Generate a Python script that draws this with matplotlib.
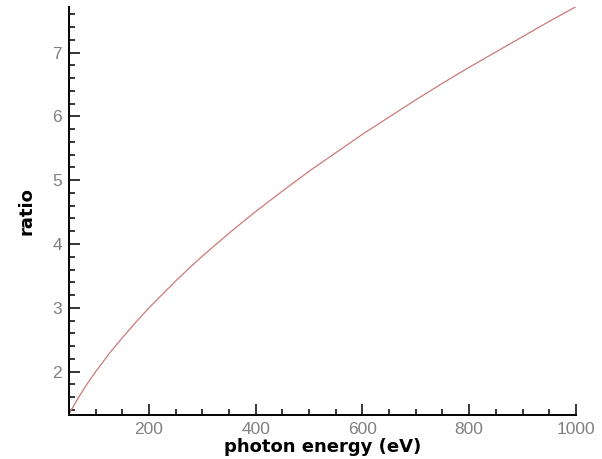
import matplotlib
matplotlib.use("Agg")
import matplotlib.pyplot as plt
from matplotlib.ticker import MultipleLocator

# values
energy = [50, 55, 60, 67, 75, 85, 100, 112, 125, 137, 150, 175, 200, 225,
          250, 275, 300, 350, 400, 450, 500, 550, 600, 650, 700, 750, 800,
          850, 900, 950, 1000]
ratio = [1.33, 1.41, 1.48, 1.58, 1.69, 1.82, 2.00, 2.13, 2.28, 2.40, 2.53,
         2.77, 3.00, 3.21, 3.42, 3.62, 3.81, 4.17, 4.51, 4.83, 5.14, 5.43,
         5.72, 5.99, 6.26, 6.52, 6.77, 7.01, 7.25, 7.49, 7.72]

fig = plt.figure(figsize=(6.02, 4.59), dpi=100)
ax = fig.add_axes([0.1146, 0.096, 0.842, 0.8894])

ax.plot(energy, ratio, color="#cc7a7a", lw=0.9)

ax.set_xlim(50, 1000)
ax.set_ylim(1.32, 7.72)
ax.xaxis.set_major_locator(MultipleLocator(200))
ax.xaxis.set_minor_locator(MultipleLocator(50))
ax.yaxis.set_major_locator(MultipleLocator(1))
ax.yaxis.set_minor_locator(MultipleLocator(0.2))

for s in ("top", "right"):
    ax.spines[s].set_visible(False)
for s in ("left", "bottom"):
    ax.spines[s].set_linewidth(1.4)

ax.tick_params(which="both", direction="in", width=1.1, color="black",
               labelcolor="#808080", labelsize=12.5)
ax.tick_params(which="major", length=8, pad=5)
ax.tick_params(which="minor", length=4.5)
for lbl in ax.get_xticklabels() + ax.get_yticklabels():
    lbl.set_family("Liberation Sans")

ax.set_xlabel("photon energy (eV)", fontsize=13, fontweight="bold", labelpad=1)
ax.set_ylabel("ratio", fontsize=13, fontweight="bold", labelpad=12)

fig.savefig("out.png", dpi=100)
